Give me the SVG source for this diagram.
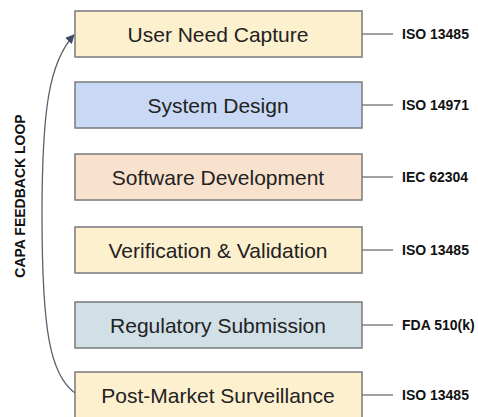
<svg xmlns="http://www.w3.org/2000/svg" width="478" height="417" viewBox="0 0 478 417">
<style>
.box{stroke:#7a7a7a;stroke-width:1.5}
.lbl{font-family:"Liberation Sans",Arial,sans-serif;font-size:21px;fill:#222;text-anchor:middle;dominant-baseline:central}
.std{font-family:"Liberation Sans",Arial,sans-serif;font-size:14px;font-weight:bold;fill:#111;dominant-baseline:central}
.conn{stroke:#6f6f6f;stroke-width:1.3;fill:none}
</style>
<defs>
<marker id="ah" viewBox="0 0 10 10" refX="9" refY="5" markerWidth="9" markerHeight="9" orient="auto" markerUnits="userSpaceOnUse">
<path d="M0,0 L10,5 L0,10 z" fill="#3d4a60"/>
</marker>
</defs>
<rect width="478" height="417" fill="#ffffff"/>
<g id="connectors">
<line class="conn" x1="362" y1="34" x2="393" y2="34"/>
<line class="conn" x1="362" y1="105" x2="393" y2="105"/>
<line class="conn" x1="362" y1="177" x2="393" y2="177"/>
<line class="conn" x1="362" y1="250" x2="393" y2="250"/>
<line class="conn" x1="362" y1="325" x2="393" y2="325"/>
<line class="conn" x1="362" y1="395" x2="393" y2="395"/>
<path d="M75,393 C50,375 42,330 42,215 C42,110 49,62 74,35" fill="none" stroke="#5a6270" stroke-width="1.3" marker-end="url(#ah)"/>
</g>
<g id="n1"><rect class="box" x="75" y="11" width="287" height="46" fill="#fdf0cf"/><text class="lbl" x="218" y="34">User Need Capture</text></g>
<g id="n2"><rect class="box" x="75" y="82" width="287" height="46" fill="#c9d9f5"/><text class="lbl" x="218" y="105">System Design</text></g>
<g id="n3"><rect class="box" x="75" y="154" width="287" height="46" fill="#f8e2cd"/><text class="lbl" x="218" y="177">Software Development</text></g>
<g id="n4"><rect class="box" x="75" y="227" width="287" height="46" fill="#fdf0cf"/><text class="lbl" x="218" y="250">Verification &amp; Validation</text></g>
<g id="n5"><rect class="box" x="75" y="302" width="287" height="46" fill="#d1dfe7"/><text class="lbl" x="218" y="325">Regulatory Submission</text></g>
<g id="n6"><rect class="box" x="75" y="372" width="287" height="46" fill="#fdf0cf"/><text class="lbl" x="218" y="395">Post-Market Surveillance</text></g>
<g id="standards">
<text class="std" x="402" y="34">ISO 13485</text>
<text class="std" x="402" y="105">ISO 14971</text>
<text class="std" x="402" y="177">IEC 62304</text>
<text class="std" x="402" y="250">ISO 13485</text>
<text class="std" x="402" y="325">FDA 510(k)</text>
<text class="std" x="402" y="395">ISO 13485</text>
</g>
<text transform="translate(20,196) rotate(-90)" font-family="Liberation Sans,Arial,sans-serif" font-size="14" font-weight="bold" fill="#111" text-anchor="middle" dominant-baseline="central">CAPA FEEDBACK LOOP</text>
</svg>
